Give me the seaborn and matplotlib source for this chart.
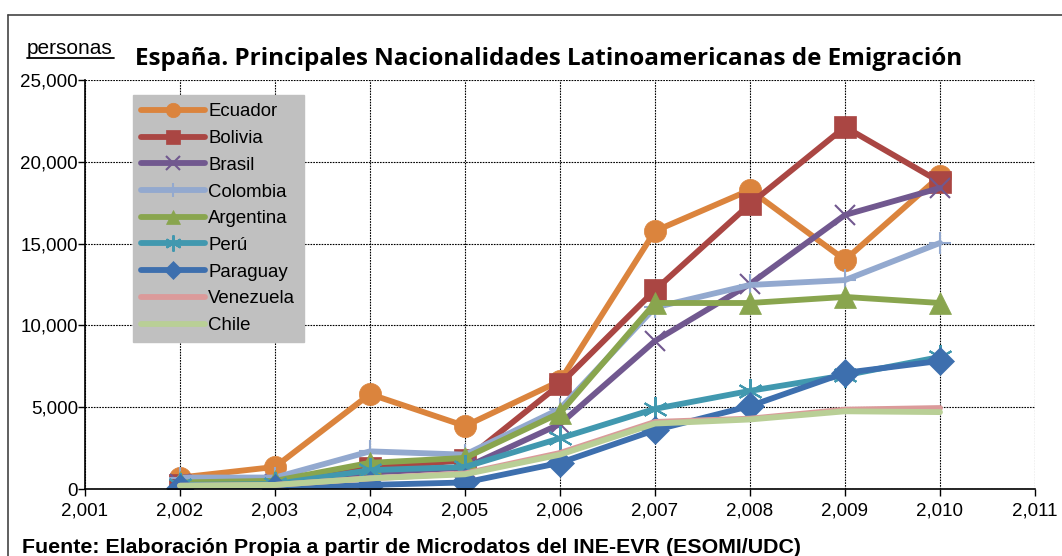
import matplotlib
matplotlib.use("Agg")
import matplotlib.pyplot as plt
import seaborn as sns
import numpy as np
from matplotlib.ticker import FuncFormatter, MultipleLocator
from matplotlib.lines import Line2D

years = [2002, 2003, 2004, 2005, 2006, 2007, 2008, 2009, 2010]

ecuador = [700, 1350, 5800, 3850, 6600, 15770, 18280, 14000, 19130]
bolivia = [250, 200, 1300, 1750, 6400, 12160, 17420, 22130, 18770]
brasil = [300, 300, 1000, 1300, 3970, 9050, 12530, 16750, 18400]
colombia = [700, 700, 2300, 2100, 4900, 11100, 12470, 12770, 15040]
argentina = [400, 500, 1600, 1900, 4650, 11370, 11370, 11740, 11370]
peru = [250, 300, 1150, 1350, 3100, 4900, 6000, 6950, 8070]
paraguay = [50, 50, 250, 400, 1600, 3600, 5070, 7100, 7830]
venezuela = [200, 250, 650, 950, 2200, 4100, 4300, 4850, 4950]
chile = [200, 250, 650, 900, 2100, 4000, 4250, 4750, 4700]

names = ["Ecuador", "Bolivia", "Brasil", "Colombia", "Argentina", "Perú",
         "Paraguay", "Venezuela", "Chile"]
series = [ecuador, bolivia, brasil, colombia, argentina, peru, paraguay,
          venezuela, chile]
colors = ["#DB843D", "#AA4643", "#71588F", "#93A9CF", "#89A54E", "#4198AF",
          "#3D6FAE", "#DB9A9A", "#B9CF96"]
markers = ["o", "s", "x", "+", "^", (6, 2, 0), "D", None, None]
msizes = [16, 16, 15, 16, 16, 18, 14, 0, 0]

sns.set_theme(style="white")
plt.rcParams['font.family'] = ['Liberation Sans', 'DejaVu Sans']

fig = plt.figure(figsize=(10.62, 5.56), dpi=100)
W, H = 1062, 556
ax = fig.add_axes([85 / W, 1 - 489 / H, (1035 - 85) / W, (489 - 80) / H])

for name, vals, c, m, ms in zip(names, series, colors, markers, msizes):
    kw = dict(marker=m, markersize=ms,
              markeredgewidth=1.5 if m in ("x", "+", (6, 2, 0)) else 0.5,
              markeredgecolor=c, markerfacecolor=c) if m is not None else {}
    sns.lineplot(x=years, y=vals, color=c, linewidth=4.2, ax=ax, label=name,
                 solid_capstyle="round", **kw)

ax.set_xlim(2001, 2011)
ax.set_ylim(0, 25000)
ax.xaxis.set_major_locator(MultipleLocator(1))
ax.yaxis.set_major_locator(MultipleLocator(5000))
ax.xaxis.set_major_formatter(FuncFormatter(lambda v, p: f"{int(round(v)):,}"))
ax.yaxis.set_major_formatter(FuncFormatter(lambda v, p: f"{int(round(v)):,}"))
ax.grid(True, color="black", linestyle=(0, (1.5, 1.0)), linewidth=0.8)
ax.set_axisbelow(True)
for s in ["top", "right"]:
    ax.spines[s].set_visible(False)
for s in ["left", "bottom"]:
    ax.spines[s].set_color("black")
    ax.spines[s].set_linewidth(1.2)
ax.tick_params(axis="both", which="both", direction="out", length=5,
               width=1, color="black", labelsize=13.5, labelcolor="black",
               bottom=True, left=True)
ax.tick_params(axis="x", pad=5)
ax.tick_params(axis="y", pad=0)
ax.set_xlabel("")
ax.set_ylabel("")

leg = ax.legend(loc="upper left", bbox_to_anchor=((133 - 85) / 950, (489 - 95) / 409),
                frameon=True, fancybox=False, facecolor="#C0C0C0", edgecolor="#C0C0C0",
                framealpha=1, fontsize=13.4, handlelength=3.4, handletextpad=0.2,
                labelspacing=0.52, borderpad=0.45, borderaxespad=0)
for t in leg.get_texts():
    t.set_color("black")
for h in leg.legend_handles:
    if isinstance(h, Line2D):
        h.set_markersize(h.get_markersize() * 0.65)

fig.text(27 / W, 1 - 54 / H, "personas", fontsize=15, ha="left", va="baseline",
         color="black")
fig.add_artist(Line2D([27 / W, 114 / W], [1 - 58 / H, 1 - 58 / H], color="black",
                      linewidth=1.3))
fig.text(549 / W, 1 - 65 / H, "España. Principales Nacionalidades Latinoamericanas de Emigración",
         fontsize=17.5, fontweight="bold", ha="center", va="baseline", color="black",
         family=["Open Sans", "DejaVu Sans"])
fig.text(22 / W, 1 - 553 / H,
         "Fuente: Elaboración Propia a partir de Microdatos del INE-EVR (ESOMI/UDC)",
         fontsize=15.4, fontweight="bold", ha="left", va="baseline", color="black")

fig.add_artist(Line2D([8 / W, 8 / W], [0, 1 - 15 / H], color="#444444", linewidth=1.2))
fig.add_artist(Line2D([8 / W, 1], [1 - 15 / H, 1 - 15 / H], color="#444444", linewidth=1.2))

fig.savefig("out.png", dpi=100)
